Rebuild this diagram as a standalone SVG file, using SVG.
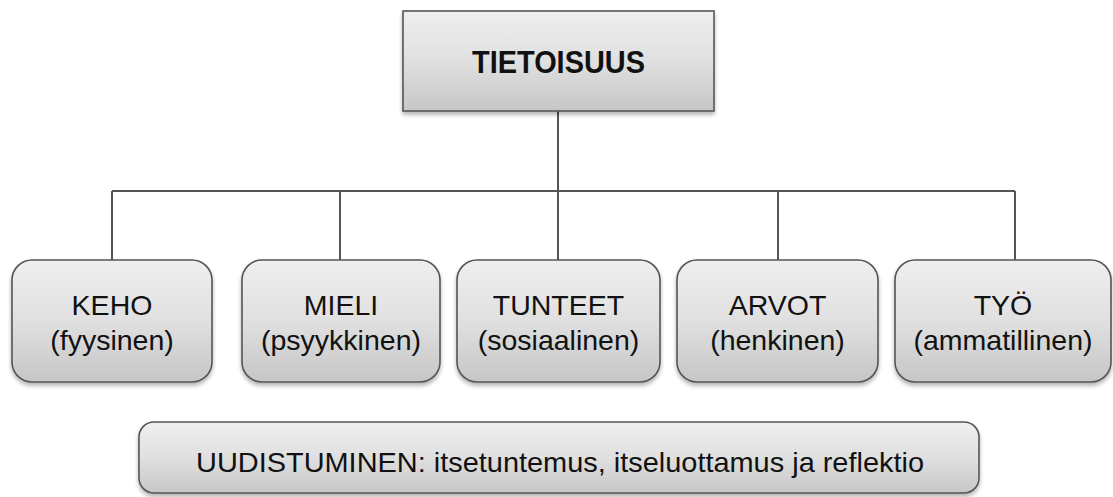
<svg xmlns="http://www.w3.org/2000/svg" width="1113" height="497" viewBox="0 0 1113 497">
<defs>
<linearGradient id="g" x1="0" y1="0" x2="0" y2="1">
<stop offset="0" stop-color="#efefef"/>
<stop offset="0.5" stop-color="#e0e0e0"/>
<stop offset="1" stop-color="#c6c6c6"/>
</linearGradient>
<filter id="sh" x="-5%" y="-5%" width="110%" height="120%">
<feGaussianBlur in="SourceAlpha" stdDeviation="2"/>
<feOffset dx="0" dy="3" result="b"/>
<feComponentTransfer><feFuncA type="linear" slope="0.3"/></feComponentTransfer>
<feMerge><feMergeNode/><feMergeNode in="SourceGraphic"/></feMerge>
</filter>
</defs>
<style>
.box{fill:url(#g);stroke:#555;stroke-width:1.6;filter:url(#sh)}
.t{font-family:"Liberation Sans",Arial,sans-serif;font-size:28.5px;fill:#111;text-anchor:middle}
.b{font-weight:bold;font-size:32px}
.c{fill:none;stroke:#555;stroke-width:2}
</style>
<g id="connectors">
<path class="c" d="M558 111 V191 M112 191 H1015 M112 191 V260 M340 191 V260 M558 191 V260 M778 191 V260 M1015 191 V260"/>
</g>
<g id="tietoisuus">
<rect class="box" x="403" y="11" width="311" height="100"/>
<text class="t b" x="558.5" y="73" textLength="173" lengthAdjust="spacingAndGlyphs">TIETOISUUS</text>
</g>
<g id="keho">
<rect class="box" x="12" y="260" width="200" height="122" rx="20"/>
<text class="t" x="112" y="315">KEHO</text>
<text class="t" x="112" y="350">(fyysinen)</text>
</g>
<g id="mieli">
<rect class="box" x="242" y="260" width="198" height="122" rx="20"/>
<text class="t" x="341" y="315">MIELI</text>
<text class="t" x="341" y="350">(psyykkinen)</text>
</g>
<g id="tunteet">
<rect class="box" x="457" y="260" width="203" height="122" rx="20"/>
<text class="t" x="558.5" y="315">TUNTEET</text>
<text class="t" x="558.5" y="350">(sosiaalinen)</text>
</g>
<g id="arvot">
<rect class="box" x="677" y="260" width="201" height="122" rx="20"/>
<text class="t" x="777.5" y="315">ARVOT</text>
<text class="t" x="777.5" y="350">(henkinen)</text>
</g>
<g id="tyo">
<rect class="box" x="895" y="260" width="216" height="122" rx="20"/>
<text class="t" x="1003" y="315">TYÖ</text>
<text class="t" x="1003" y="350">(ammatillinen)</text>
</g>
<g id="uudistuminen">
<rect class="box" x="139" y="422" width="840" height="71" rx="15"/>
<text class="t" x="560" y="472" font-size="32" textLength="728" lengthAdjust="spacingAndGlyphs">UUDISTUMINEN: itsetuntemus, itseluottamus ja reflektio</text>
</g>
</svg>
